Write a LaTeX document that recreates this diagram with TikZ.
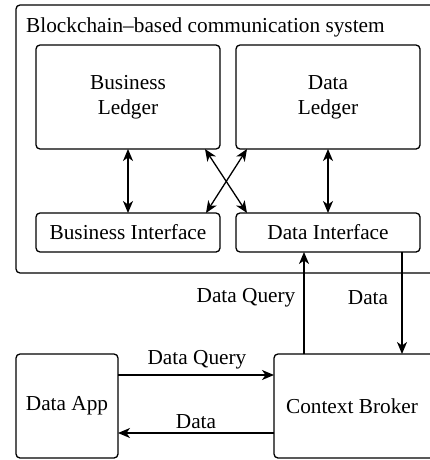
\documentclass[tikz,border=0pt]{standalone}
\usepackage{fontspec}
\setmainfont{Liberation Serif}
\usetikzlibrary{arrows.meta}
\begin{document}
\begin{tikzpicture}[x=1pt,y=-1pt,
  font=\fontsize{21.3}{25}\selectfont,
  box/.style={draw, line width=1.3pt, rounded corners=4pt, inner sep=0pt, outer sep=0pt, align=center},
  link/.style={line width=1.3pt, -{Stealth[length=12pt,width=10pt,inset=3.5pt]}},
  biLink/.style={line width=1.3pt, {Stealth[length=12pt,width=10pt,inset=3.5pt]}-{Stealth[length=12pt,width=10pt,inset=3.5pt]}}]
\useasboundingbox (0,0) rectangle (430,460);
\clip (0,0) rectangle (430,460);
% enclosing system frame (runs past the right edge)
\node[box, minimum width=424pt, minimum height=268pt] (sys) at (228,139) {};
\node[anchor=base west, inner sep=0pt] (title) at (26,33) {Blockchain–based communication system};
% ledgers and interfaces
\node[box, minimum width=184pt, minimum height=104pt] (bl) at (128,97) {Business\\Ledger};
\node[box, minimum width=184pt, minimum height=104pt] (dl) at (328,97) {Data\\Ledger};
\node[box, minimum width=184pt, minimum height=39pt] (bi) at (128,232.5) {Business Interface};
\node[box, minimum width=184pt, minimum height=39pt] (di) at (328,232.5) {Data Interface};
% external components
\node[box, minimum width=102pt, minimum height=104pt] (da) at (67,406) {Data App};
\node[box, minimum width=162pt, minimum height=104pt] (cb) at (355,406) {};
\node (cbl) at (352,406) {Context Broker};
% ledger <-> interface links
\draw[biLink] (bl) -- (bi);
\draw[biLink] (dl) -- (di);
\draw[biLink] ([xshift=-15pt]bl.south east) -- ([xshift=11pt]di.north west);
\draw[biLink] ([xshift=11pt]dl.south west) -- ([xshift=-14pt]bi.north east);
% broker <-> data interface
\coordinate (up0) at ([xshift=30pt]cb.north west);
\draw[link] (up0) -- (up0 |- di.south);
\coordinate (dn0) at ([xshift=-18pt]di.south east);
\draw[link] (dn0) -- (dn0 |- cb.north);
\node (lq) at (246,298) {Data Query};
\node (ld) at (368,298) {Data};
% app <-> broker
\coordinate (q0) at ([yshift=-21pt]da.north east);
\draw[link] (q0) -- (q0 -| cb.west);
\coordinate (r0) at ([yshift=25pt]da.south east);
\draw[link] (r0 -| cb.west) -- (r0);
\node (lq2) at (197,360) {Data Query};
\node (ld2) at (196,422) {Data};
\end{tikzpicture}
\end{document}
